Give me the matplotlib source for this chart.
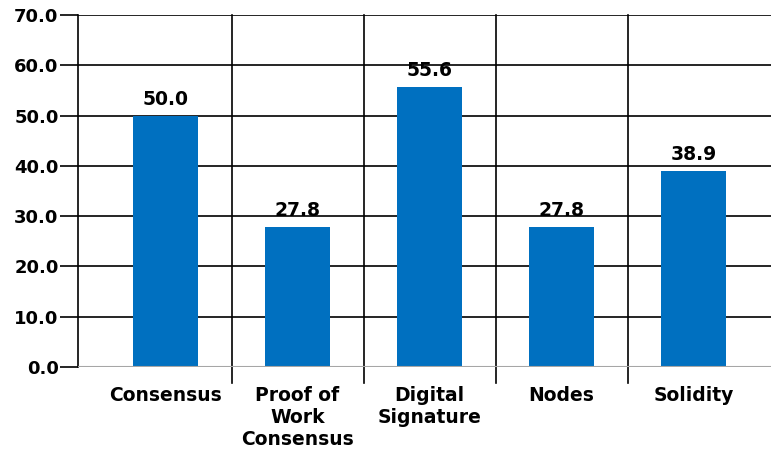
import matplotlib
matplotlib.use("Agg")
import matplotlib.pyplot as plt
from matplotlib.ticker import FormatStrFormatter

categories = ["Consensus", "Proof of\nWork\nConsensus", "Digital\nSignature", "Nodes", "Solidity"]
values = [50.0, 27.8, 55.6, 27.8, 38.9]
yticks = [0, 10, 20, 30, 40, 50, 60, 70]

plt.rcParams['font.family'] = ['DejaVu Sans']
plt.rcParams['font.weight'] = 'bold'

fig = plt.figure(figsize=(7.71, 4.5), dpi=100)
W, H = 771, 450
ax = fig.add_axes([78 / W, (H - 367) / H, 1 - 78 / W, (367 - 15) / H])

x = list(range(len(categories)))
ax.set_xlim(-0.663, 4.587)
ax.set_ylim(0, 70)

# gridlines
for t in yticks[1:]:
    ax.axhline(t, color='black', lw=1.2, zorder=1)
ax.axhline(0, color='#a6a6a6', lw=1.5, zorder=3)

# category separators extending below axis
below = -3.2
for b in [i + 0.5 for i in x[:-1]]:
    ax.plot([b, b], [below, 70], color='black', lw=1.2, clip_on=False, zorder=1)

bars = ax.bar(x, values, width=0.49, color='#0070C0', zorder=2)
for xi, v in zip(x, values):
    ax.annotate(f"{v:.1f}", (xi, v), xytext=(0, 5), textcoords='offset points',
                ha='center', va='bottom', fontsize=13.5, fontweight='bold')

ax.set_yticks(yticks)
ax.yaxis.set_major_formatter(FormatStrFormatter('%.1f'))
ax.set_xticks(x)
ax.set_xticklabels(categories, fontsize=13.5, fontweight='bold', linespacing=1.17)
ax.tick_params(axis='x', length=0, pad=14)
ax.tick_params(axis='y', length=13, width=1.2, color='black', pad=1, labelsize=13)
for lab in ax.get_yticklabels():
    lab.set_fontweight('bold')

for s in ['top', 'right', 'bottom']:
    ax.spines[s].set_visible(False)
ax.spines['left'].set_color('black')
ax.spines['left'].set_linewidth(1.2)

fig.savefig("out.png", dpi=100)
